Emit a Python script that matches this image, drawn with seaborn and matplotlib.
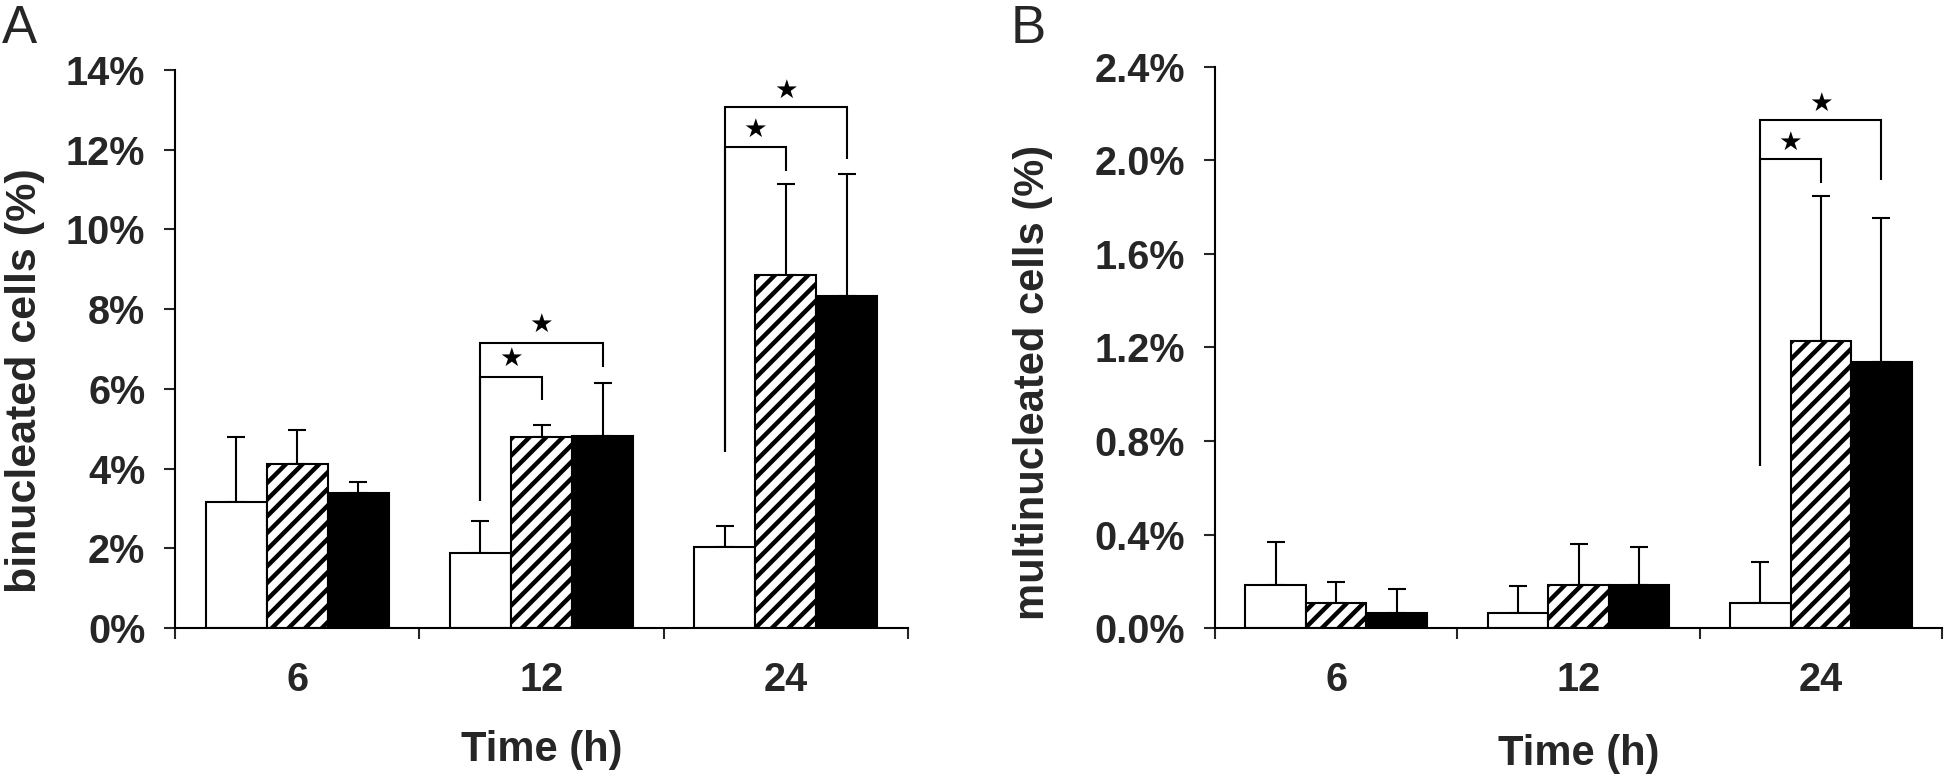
import matplotlib
matplotlib.use("Agg")
import matplotlib.pyplot as plt
import seaborn as sns
import pandas as pd
from matplotlib.ticker import FuncFormatter, FixedLocator, MultipleLocator

# ---------------- data ----------------
times = ["6", "12", "24"]
groups = ["white", "hatched", "black"]

# Panel A: binucleated cells (%)
bin_white = [3.17, 1.89, 2.02]
bin_white_err = [1.63, 0.80, 0.54]
bin_hatched = [4.12, 4.80, 8.85]
bin_hatched_err = [0.84, 0.29, 2.30]
bin_black = [3.39, 4.81, 8.33]
bin_black_err = [0.28, 1.33, 3.05]

# Panel B: multinucleated cells (%)
multi_white = [0.182, 0.066, 0.106]
multi_white_err = [0.188, 0.114, 0.175]
multi_hatched = [0.106, 0.182, 1.226]
multi_hatched_err = [0.089, 0.177, 0.622]
multi_black = [0.066, 0.182, 1.138]
multi_black_err = [0.101, 0.165, 0.615]

# significance brackets: (time index, target group, start y, level y, drop y, star y)
bin_sig = [
    (1, "hatched", 3.19, 6.30, 5.72, 6.74),
    (1, "black", 3.19, 7.14, 6.54, 7.60),
    (2, "hatched", 4.41, 12.08, 11.46, 12.49),
    (2, "black", 4.41, 13.07, 11.77, 13.48),
]
multi_sig = [
    (2, "hatched", 0.694, 2.005, 1.903, 2.074),
    (2, "black", 0.694, 2.174, 1.916, 2.243),
]

# ---------------- style ----------------
sns.set_style("ticks")
plt.rcParams["font.family"] = ["Liberation Sans", "DejaVu Sans"]
plt.rcParams["hatch.linewidth"] = 3.2
plt.rcParams["hatch.color"] = "black"

TICK_FS = 28.5
LW = 1.5
HATCH_LW = 3.2


def make_df(w, h, b):
    rows = []
    for vals, g in zip([w, h, b], groups):
        for t, v in zip(times, vals):
            rows.append({"time": t, "group": g, "value": v})
    return pd.DataFrame(rows)


def draw(ax, w, we, h, he, b, be, sig, ymax, ystep, fmt, ylabel, ylab_fs,
         ylab_x, ylab_y, xlab_y):
    df = make_df(w, h, b)
    sns.barplot(data=df, x="time", y="value", hue="group", order=times,
                hue_order=groups, palette=["white", "white", "black"],
                saturation=1, width=0.75, edgecolor="black", linewidth=LW,
                errorbar=None, legend=False, ax=ax, zorder=2)
    centers = {}
    for cont, g, errs in zip(ax.containers, groups, [we, he, be]):
        xs, ys = [], []
        for patch in cont:
            if g == "hatched":
                patch.set_hatch("//")
                if hasattr(patch, "set_hatch_linewidth"):
                    patch.set_hatch_linewidth(HATCH_LW)
            xs.append(patch.get_x() + patch.get_width() / 2)
            ys.append(patch.get_height())
        centers[g] = xs
        ax.errorbar(xs, ys, yerr=[[0] * len(errs), errs], fmt="none",
                    ecolor="black", elinewidth=LW, capsize=6.5, capthick=LW,
                    zorder=1)
    for (ti, target, y0, ylev, ydrop, ystar) in sig:
        x0 = centers["white"][ti]
        x1 = centers[target][ti]
        ax.plot([x0, x0, x1, x1], [y0, ylev, ylev, ydrop], color="black",
                lw=LW, solid_joinstyle="miter", solid_capstyle="butt", zorder=3)
        ax.text((x0 + x1) / 2, ystar, "\u2605", ha="center", va="center",
                fontsize=19, family="DejaVu Sans", color="black")

    ax.set_xlim(-0.5, 2.5)
    ax.set_ylim(0, ymax)
    ax.yaxis.set_major_locator(MultipleLocator(ystep))
    ax.yaxis.set_major_formatter(FuncFormatter(fmt))
    ax.xaxis.set_minor_locator(FixedLocator([-0.5, 0.5, 1.5, 2.5]))
    ax.tick_params(axis="x", which="major", length=0, pad=24)
    ax.tick_params(axis="x", which="minor", length=8, width=LW, direction="out")
    ax.tick_params(axis="y", which="major", length=8, width=LW, direction="out", pad=13.5)
    for lab in ax.get_xticklabels() + ax.get_yticklabels():
        lab.set_fontsize(TICK_FS)
        lab.set_fontweight("bold")
    sns.despine(ax=ax)
    for sp in ["left", "bottom"]:
        ax.spines[sp].set_linewidth(LW)
        ax.spines[sp].set_color("black")
    ax.set_xlabel("Time (h)", fontsize=30, fontweight="bold")
    ax.set_ylabel(ylabel, fontsize=ylab_fs, fontweight="bold")
    ax.xaxis.set_label_coords(0.5, xlab_y)
    ax.yaxis.set_label_coords(ylab_x, ylab_y)
    ax.set_facecolor("white")


W, H = 1946, 776
fig = plt.figure(figsize=(W / 100, H / 100), dpi=100)
fig.patch.set_facecolor("white")
axA = fig.add_axes([175 / W, 1 - 628 / H, 733 / W, 558 / H])
axB = fig.add_axes([1215 / W, 1 - 628 / H, 727 / W, 561 / H])

draw(axA, bin_white, bin_white_err, bin_hatched, bin_hatched_err,
     bin_black, bin_black_err, bin_sig, 14, 2,
     lambda v, p: f"{v:.0f}%", "binucleated cells (%)", 31, -0.177, 0.444, -0.183)
draw(axB, multi_white, multi_white_err, multi_hatched, multi_hatched_err,
     multi_black, multi_black_err, multi_sig, 2.4, 0.4,
     lambda v, p: f"{v:.1f}%", "multinucleated cells (%)", 30, -0.223, 0.437, -0.189)

fig.text(2 / W, 1 - 43 / H, "A", fontsize=38, va="baseline", ha="left")
fig.text(1011 / W, 1 - 43 / H, "B", fontsize=38, va="baseline", ha="left")

fig.savefig("out.png", dpi=100, facecolor="white")
